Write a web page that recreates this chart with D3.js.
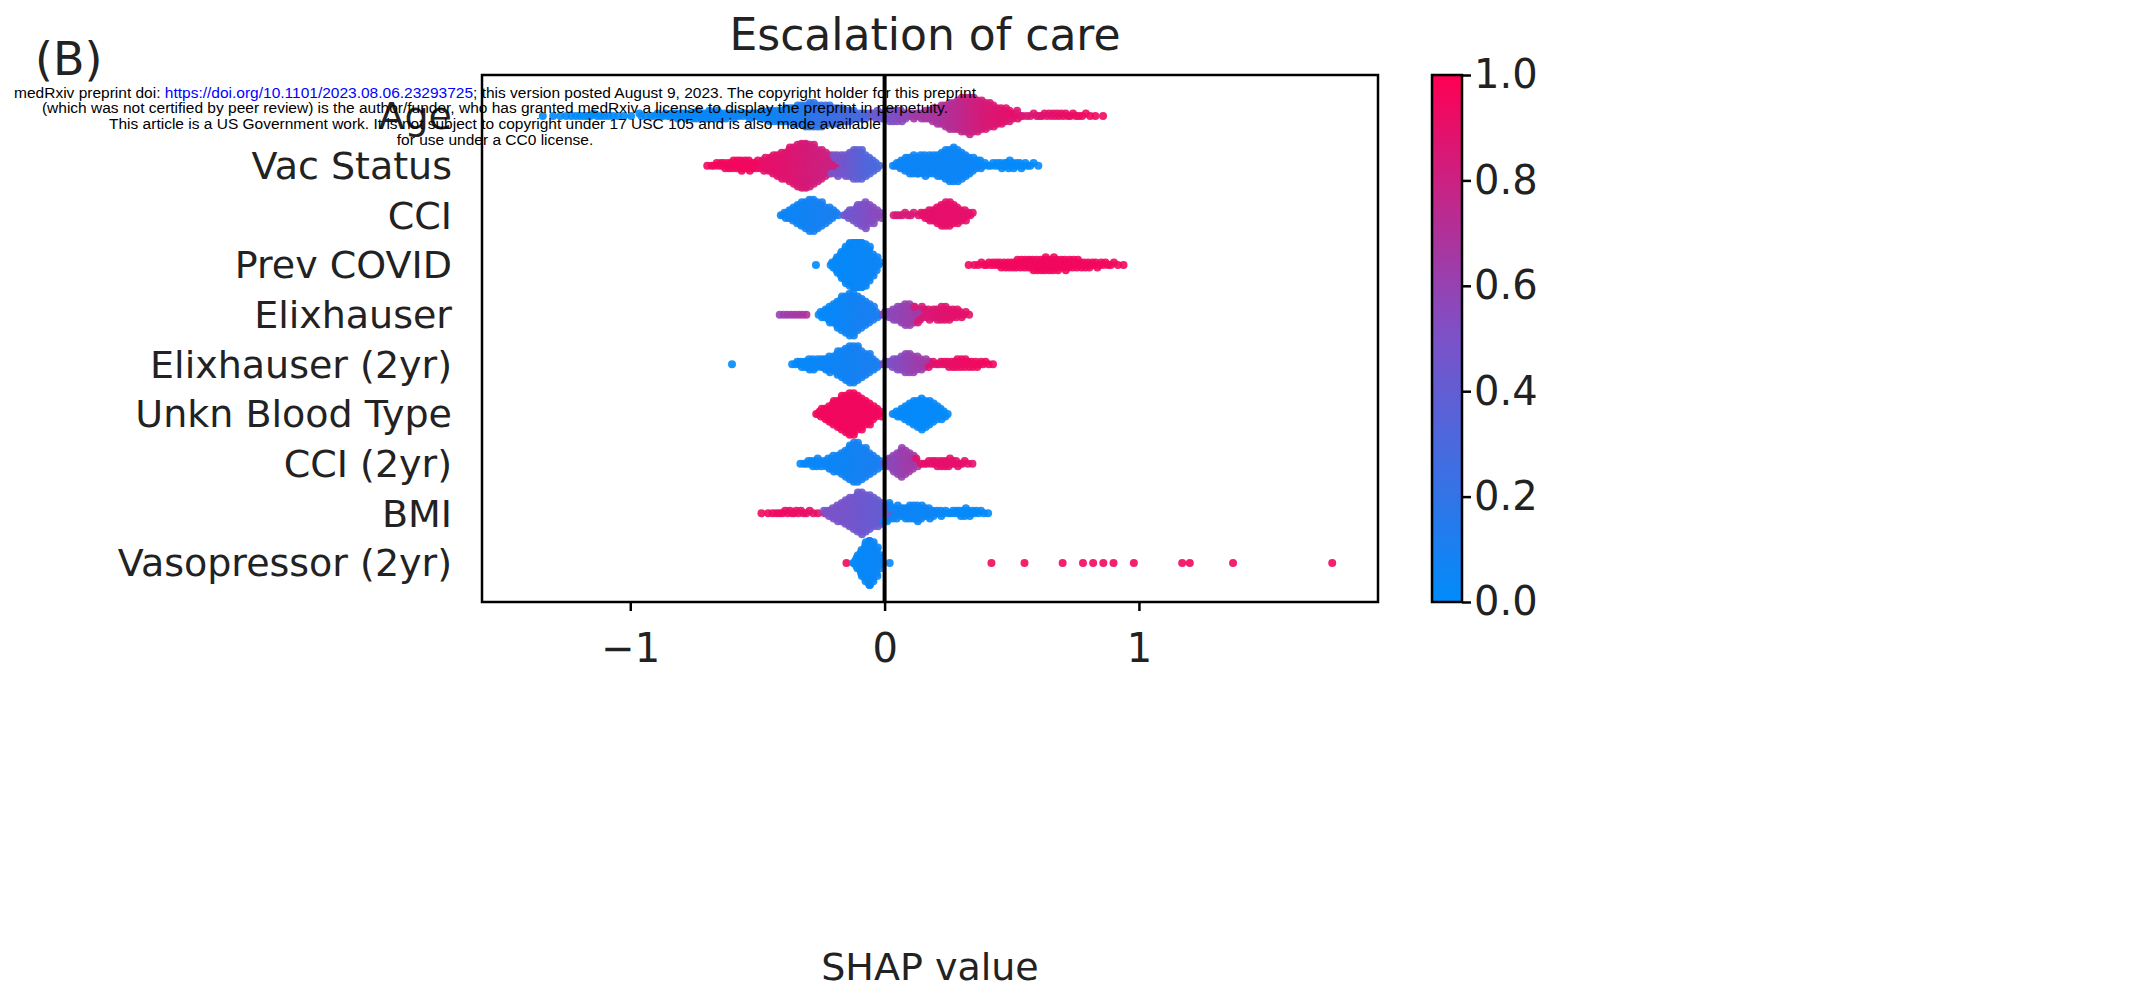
<!DOCTYPE html>
<html>
<head>
<meta charset="utf-8">
<script src="https://cdn.jsdelivr.net/npm/d3@7"></script>
<style>
  body { margin: 0; background: #fff; }
  svg text { font-family: "DejaVu Sans", sans-serif; }
</style>
</head>
<body>
<svg id="chart" width="2138" height="992"></svg>
<script>
// SHAP beeswarm - Escalation of care

const features = ["Age", "Vac Status", "CCI", "Prev COVID", "Elixhauser",
  "Elixhauser (2yr)", "Unkn Blood Type", "CCI (2yr)", "BMI", "Vasopressor (2yr)"];

// segments per feature: [shapFrom, shapTo, dotCount, colorFrom, colorTo]
const segments = [
  [[-1.4, -0.9, 20, 0.0, 0.0], [-1.0, -0.4, 70, 0.02, 0.05], [-0.55, -0.02, 170, 0.05, 0.3], [-0.08, 0.14, 40, 0.4, 0.6],
   [0.1, 0.55, 220, 0.65, 0.9], [0.45, 0.9, 30, 0.85, 0.95]],
  [[-0.72, -0.4, 50, 0.95, 0.95], [-0.5, -0.15, 220, 0.9, 0.8], [-0.22, -0.01, 90, 0.5, 0.3], [0.02, 0.2, 50, 0.05, 0.05],
   [0.12, 0.4, 130, 0.05, 0.05], [0.35, 0.63, 30, 0.02, 0.02]],
  [[-0.42, -0.17, 110, 0.05, 0.1], [-0.17, 0.0, 60, 0.45, 0.55], [0.03, 0.12, 8, 0.85, 0.85], [0.12, 0.36, 80, 0.9, 0.9]],
  [[-0.27, -0.27, 1, 0.0, 0.0], [-0.22, -0.01, 170, 0.02, 0.05], [0.3, 0.97, 120, 0.95, 0.95]],
  [[-0.42, -0.3, 8, 0.6, 0.7], [-0.27, -0.01, 150, 0.02, 0.1], [-0.02, 0.18, 60, 0.55, 0.65], [0.1, 0.35, 50, 0.85, 0.9]],
  [[-0.6, -0.6, 1, 0.0, 0.0], [-0.38, -0.2, 30, 0.02, 0.05], [-0.26, -0.01, 130, 0.05, 0.1], [-0.02, 0.2, 60, 0.5, 0.65],
   [0.15, 0.45, 40, 0.9, 0.95]],
  [[-0.28, 0.0, 160, 0.95, 0.95], [0.02, 0.26, 100, 0.02, 0.02]],
  [[-0.35, -0.18, 20, 0.02, 0.05], [-0.24, 0.0, 130, 0.05, 0.1], [-0.01, 0.14, 60, 0.55, 0.65], [0.1, 0.37, 30, 0.9, 0.9]],
  [[-0.52, -0.2, 20, 0.95, 0.9], [-0.25, 0.06, 170, 0.5, 0.4], [-0.02, 0.25, 60, 0.05, 0.05], [0.2, 0.43, 25, 0.02, 0.02]],
  [[-0.15, -0.15, 1, 0.95, 0.95], [-0.13, 0.0, 90, 0.02, 0.05], [0.02, 0.02, 1, 0.05, 0.05]]
];
// Vasopressor isolated high-value points
const vasoPoints = [0.42, 0.55, 0.7, 0.78, 0.82, 0.86, 0.9, 0.98, 1.17, 1.2, 1.37, 1.76];

const xTicks = [-1, 0, 1];
const cbTicks = [0, 0.2, 0.4, 0.6, 0.8, 1.0];

const svg = d3.select("#chart");
const plot = { left: 482, right: 1378, top: 75, bottom: 602 };

const x = d3.scaleLinear().domain([-1.583, 1.94]).range([plot.left, plot.right]);
const y = d3.scalePoint().domain(features).range([116, 563]);
const color = d3.scaleLinear().domain([0, 0.5, 1]).range(["#008bfb", "#7c52c9", "#ff0052"]).interpolate(d3.interpolateRgb);

// Build dots from segments (peaked spacing so swarms bulge in the middle)
function spread(t) { return t < 0.5 ? Math.sqrt(t / 2) : 1 - Math.sqrt((1 - t) / 2); }
const dots = [];
segments.forEach((segs, i) => {
  segs.forEach(([a, b, n, c0, c1]) => {
    for (let k = 0; k < n; k++) {
      const t = n === 1 ? 0 : (k + 0.5) / n;
      const u = n > 15 ? spread(t) : t;
      dots.push({ f: features[i], v: a + (b - a) * u, c: c0 + (c1 - c0) * t });
    }
  });
});
vasoPoints.forEach(v => dots.push({ f: "Vasopressor (2yr)", v, c: 0.95 }));

// Beeswarm stacking by bins
const binCount = {};
dots.forEach(d => {
  const key = d.f + "|" + Math.round(x(d.v) / 4);
  const k = binCount[key] || 0;
  binCount[key] = k + 1;
  const off = Math.ceil(k / 2) * 2.6 * (k % 2 ? -1 : 1);
  d.px = x(d.v);
  d.py = y(d.f) + Math.max(-22, Math.min(22, off));
});

svg.append("g").selectAll("circle").data(dots).join("circle")
  .attr("cx", d => d.px).attr("cy", d => d.py).attr("r", 4)
  .attr("fill", d => color(d.c)).attr("fill-opacity", 0.9);

// Zero line
svg.append("line").attr("x1", x(0)).attr("x2", x(0))
  .attr("y1", plot.top).attr("y2", plot.bottom)
  .attr("stroke", "#000").attr("stroke-width", 4);

// Frame
svg.append("rect").attr("x", plot.left).attr("y", plot.top)
  .attr("width", plot.right - plot.left).attr("height", plot.bottom - plot.top)
  .attr("fill", "none").attr("stroke", "#000").attr("stroke-width", 2.5);

// X axis
const xAxis = svg.append("g").attr("transform", `translate(0,${plot.bottom})`)
  .call(d3.axisBottom(x).tickValues(xTicks).tickSize(9).tickFormat(d => d < 0 ? "\u2212" + Math.abs(d) : d));
xAxis.select(".domain").remove();
xAxis.selectAll("line").attr("stroke-width", 2.5);
xAxis.selectAll("text").attr("font-size", 40).attr("dy", "1.2em").attr("fill", "#222");

svg.append("text").attr("x", 930).attr("y", 980).attr("text-anchor", "middle")
  .attr("font-size", 38).attr("fill", "#222").text("SHAP value");

// Feature labels
svg.append("g").selectAll("text").data(features).join("text")
  .attr("x", 452).attr("y", d => y(d)).attr("dy", "0.35em")
  .attr("text-anchor", "end").attr("font-size", 38).attr("fill", "#222").text(d => d);

// Title and panel label
svg.append("text").attr("x", 925).attr("y", 50).attr("text-anchor", "middle")
  .attr("font-size", 44).attr("fill", "#222").text("Escalation of care");
svg.append("text").attr("x", 35).attr("y", 75).attr("font-size", 46).attr("fill", "#222").text("(B)");

// Colorbar
const cb = { x: 1432, w: 30 };
const cbY = d3.scaleLinear().domain([0, 1]).range([plot.bottom, plot.top]);
const grad = svg.append("defs").append("linearGradient").attr("id", "cbgrad")
  .attr("x1", 0).attr("y1", 1).attr("x2", 0).attr("y2", 0);
d3.range(0, 1.01, 0.1).forEach(t => grad.append("stop").attr("offset", t).attr("stop-color", color(t)));
svg.append("rect").attr("x", cb.x).attr("y", plot.top).attr("width", cb.w)
  .attr("height", plot.bottom - plot.top).attr("fill", "url(#cbgrad)")
  .attr("stroke", "#000").attr("stroke-width", 2.5);
const cbAxis = svg.append("g").attr("transform", `translate(${cb.x + cb.w},0)`)
  .call(d3.axisRight(cbY).tickValues(cbTicks).tickSize(9).tickFormat(d3.format(".1f")));
cbAxis.select(".domain").remove();
cbAxis.selectAll("line").attr("stroke-width", 2.5);
cbAxis.selectAll("text").attr("font-size", 40).attr("fill", "#222");

// medRxiv watermark
const wm = svg.append("g").attr("font-size", 15.5).attr("text-anchor", "middle").attr("fill", "#000");
const l1 = wm.append("text").attr("x", 495).attr("y", 98).style("font-family", "Liberation Sans, Arial, sans-serif");
l1.append("tspan").text("medRxiv preprint doi: ");
l1.append("tspan").attr("fill", "#0000ff").text("https://doi.org/10.1101/2023.08.06.23293725");
l1.append("tspan").text("; this version posted August 9, 2023. The copyright holder for this preprint");
["(which was not certified by peer review) is the author/funder, who has granted medRxiv a license to display the preprint in perpetuity.",
 "This article is a US Government work. It is not subject to copyright under 17 USC 105 and is also made available",
 "for use under a CC0 license."].forEach((s, i) => {
  wm.append("text").attr("x", 495).attr("y", 113 + i * 16)
    .style("font-family", "Liberation Sans, Arial, sans-serif").text(s);
});
</script>
</body>
</html>
